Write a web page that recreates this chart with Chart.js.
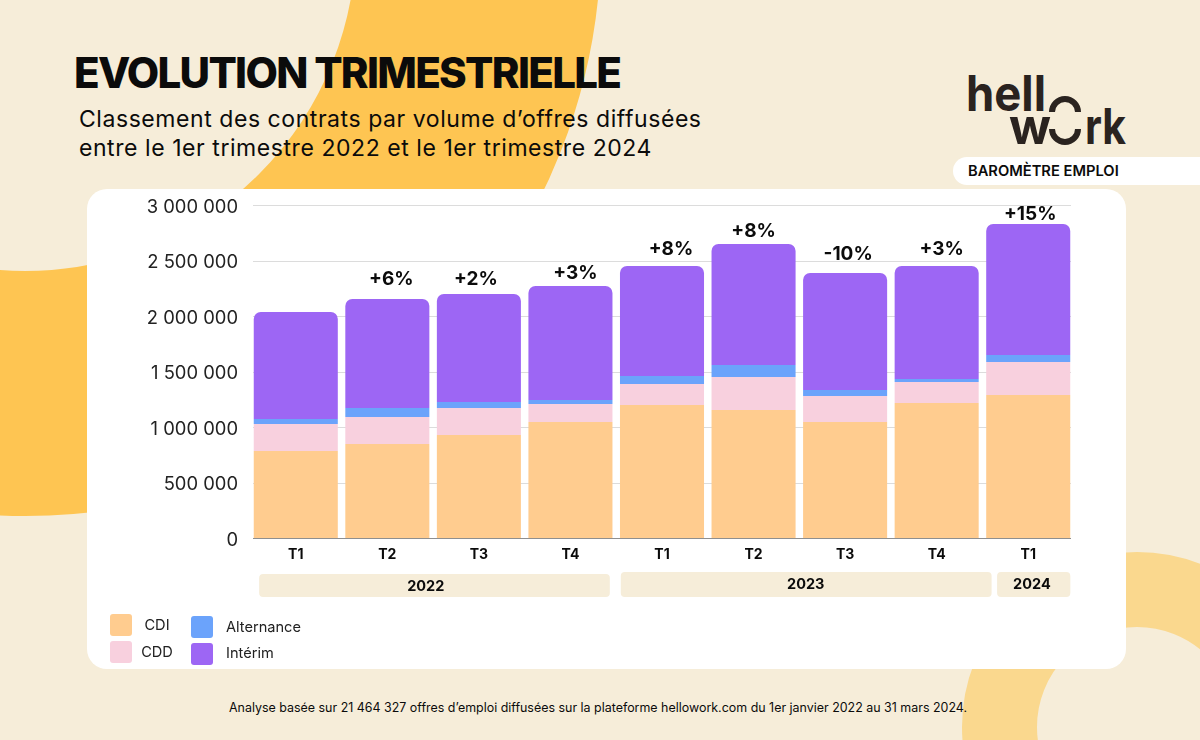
<!DOCTYPE html>
<html lang="fr">
<head>
<meta charset="utf-8">
<title>Evolution trimestrielle</title>
<script src="https://cdn.jsdelivr.net/npm/chart.js@4"></script>
<style>
    html, body { margin: 0; padding: 0; }
    body { width: 1200px; height: 740px; overflow: hidden; background: #F6EDD9; position: relative; font-family: Inter, sans-serif; color: #0b0b0b; }
    .ring { position: absolute; border-radius: 50%; box-sizing: border-box; }
    #ring-big { left: -551px; top: -636px; width: 1152px; height: 1152px; border: 245px solid #FEC552; }
    #ring-small { left: 962px; top: 552px; width: 350px; height: 350px; border: 75px solid #FAD88E; }
    #card { position: absolute; left: 87px; top: 189px; width: 1039px; height: 480px; background: #fff; border-radius: 20px; }
    h1 { position: absolute; left: 74px; top: 47px; margin: 0; font-size: 42px; line-height: 52px; font-weight: 800; letter-spacing: -1.7px; white-space: nowrap; }
    #subtitle { position: absolute; left: 79px; top: 105px; margin: 0; font-size: 23px; line-height: 29px; font-weight: 400; letter-spacing: 0.56px; white-space: nowrap; }
    #pill { position: absolute; left: 953px; top: 157px; width: 247px; height: 28px; background: #fff; border-radius: 14px 0 0 14px; font-size: 14.7px; line-height: 29px; font-weight: 600; padding-left: 15px; box-sizing: border-box; }
    #logo { position: absolute; left: 0; top: 0; }
    #footer { position: absolute; left: 0; width: 1196px; top: 700px; text-align: center; font-size: 12.45px; line-height: 16px; }
    canvas { position: absolute; left: 0; top: 0; }
</style>
</head>
<body>
<div class="ring" id="ring-big"></div>
<div class="ring" id="ring-small"></div>
<div id="card"></div>
<h1>EVOLUTION TRIMESTRIELLE</h1>
<p id="subtitle">Classement des contrats par volume d’offres diffusées<br>entre le 1er trimestre 2022 et le 1er trimestre 2024</p>
<svg id="logo" width="1200" height="160" font-family="Inter" font-weight="700" fill="#2A231F">
    <text x="966" y="111" font-size="50" textLength="80" lengthAdjust="spacingAndGlyphs">hell</text>
    <text x="1009" y="144" font-size="50" textLength="42" lengthAdjust="spacingAndGlyphs">w</text>
    <text x="1085" y="144" font-size="50" textLength="41" lengthAdjust="spacingAndGlyphs">rk</text>
    <path d="M1052 112 A13 13 0 0 1 1078 112" fill="none" stroke="#2A231F" stroke-width="6"/>
    <path d="M1052 129 A13 13 0 0 0 1078 129" fill="none" stroke="#2A231F" stroke-width="6"/>
</svg>
<div id="pill">BAROMÈTRE EMPLOI</div>
<div id="footer">Analyse basée sur 21 464 327 offres d’emploi diffusées sur la plateforme hellowork.com du 1er janvier 2022 au 31 mars 2024.</div>
<canvas id="chart" width="1200" height="740"></canvas>

<script>
const quarters = ['T1', 'T2', 'T3', 'T4', 'T1', 'T2', 'T3', 'T4', 'T1'];
const cdi = [784000, 847000, 928000, 1045000, 1198000, 1153000, 1045000, 1216000, 1288000];
const cdd = [243000, 243000, 243000, 162000, 189000, 297000, 234000, 189000, 297000];
const alternance = [45000, 81000, 54000, 36000, 72000, 108000, 54000, 27000, 63000];
const interim = [964000, 982000, 973000, 1027000, 991000, 1090000, 1054000, 1018000, 1181000];
const growth = [null, '+6%', '+2%', '+3%', '+8%', '+8%', '-10%', '+3%', '+15%'];
const yearLabels = ['2022', '2023', '2024'];

// year bands, in category units
const yearBandStart = [-0.40, 3.55, 7.66];
const yearBandEnd = [3.43, 7.60, 8.46];
const yearLabelAt = [1.42, 5.57, 8.04];

// hand placement of the small labels, they are not regular in the original
const growthDx = [0, 4, -3, 5, 9, 0, 3, 5, 2];
const growthGap = [0, 10, 5, 3, 7, 3, 9, 7, 0];
const yearBandTop = [574, 572, 572];
const yearTextY = [587, 585, 585];
const legendBoxes = [[110, 614], [110, 641], [191, 616], [191, 643]];
const legendText = [[157, 626, 'center'], [157, 653, 'center'], [226, 628, 'left'], [226, 654, 'left']];

const formatNumber = (v) => String(v).replace(/\B(?=(\d{3})+$)/g, ' ');

const gridPlugin = {
    id: 'grid',
    beforeDatasetsDraw(chart) {
        const { ctx, scales: { y } } = chart;
        ctx.save();
        y.ticks.forEach((tick) => {
            const py = Math.round(y.getPixelForValue(tick.value)) + 0.5;
            ctx.strokeStyle = tick.value === 0 ? '#8f8f8f' : '#dcdcdc';
            ctx.lineWidth = 1;
            ctx.beginPath();
            ctx.moveTo(253, py);
            ctx.lineTo(1071, py);
            ctx.stroke();
        });
        ctx.restore();
    }
};

const extrasPlugin = {
    id: 'extras',
    afterDatasetsDraw(chart) {
        const { ctx, scales: { x } } = chart;
        const topBars = chart.getDatasetMeta(3).data;
        ctx.save();

        // growth labels above the stacks
        ctx.fillStyle = '#0b0b0b';
        ctx.font = '700 19px Inter';
        ctx.textAlign = 'center';
        ctx.textBaseline = 'bottom';
        growth.forEach((label, i) => {
            if (label) ctx.fillText(label, topBars[i].x + growthDx[i], topBars[i].y - growthGap[i]);
        });

        // year bands under the axis
        ctx.textBaseline = 'middle';
        ctx.font = '700 14.5px Inter';
        yearLabels.forEach((year, i) => {
            const left = x.getPixelForValue(yearBandStart[i]);
            const right = x.getPixelForValue(yearBandEnd[i]);
            ctx.fillStyle = '#F6EDD9';
            ctx.beginPath();
            ctx.roundRect(left, yearBandTop[i], right - left, 597 - yearBandTop[i], 4);
            ctx.fill();
            ctx.fillStyle = '#0b0b0b';
            ctx.fillText(year, x.getPixelForValue(yearLabelAt[i]), yearTextY[i]);
        });

        // legend, laid out by hand in two columns
        ctx.font = '400 14.6px Inter';
        chart.data.datasets.forEach((ds, i) => {
            ctx.fillStyle = ds.backgroundColor;
            ctx.beginPath();
            ctx.roundRect(legendBoxes[i][0], legendBoxes[i][1], 22, 22, 3);
            ctx.fill();
            ctx.fillStyle = '#222';
            ctx.textAlign = legendText[i][2];
            ctx.fillText(ds.label, legendText[i][0], legendText[i][1]);
        });
        ctx.restore();
    }
};

new Chart(document.getElementById('chart'), {
    type: 'bar',
    data: {
        labels: quarters,
        datasets: [
            { label: 'CDI', data: cdi, backgroundColor: '#FFCC8F' },
            { label: 'CDD', data: cdd, backgroundColor: '#F8D0DE' },
            { label: 'Alternance', data: alternance, backgroundColor: '#6BA3FB' },
            { label: 'Intérim', data: interim, backgroundColor: '#9D66F4', borderRadius: { topLeft: 7, topRight: 7 } }
        ]
    },
    options: {
        responsive: false,
        animation: false,
        layout: { padding: { top: 205, right: 126, left: 0, bottom: 0 } },
        plugins: { legend: { display: false }, tooltip: { enabled: false } },
        datasets: { bar: { barPercentage: 0.918, categoryPercentage: 1, borderSkipped: false, borderWidth: 0 } },
        scales: {
            x: {
                stacked: true,
                grid: { display: false },
                border: { display: false },
                ticks: { color: '#0b0b0b', font: { family: 'Inter', size: 14, weight: '700' }, padding: 0, maxRotation: 0 },
                afterFit: (scale) => { scale.height = 202; }
            },
            y: {
                stacked: true,
                min: 0,
                max: 3000000,
                grid: { display: false },
                border: { display: false },
                ticks: {
                    stepSize: 500000,
                    color: '#222',
                    padding: 4,
                    // small line height + empty first line = labels sit 2px below the gridline
                    font: { family: 'Inter', size: 18.4, lineHeight: 0.22 },
                    callback: (v) => ['', formatNumber(v)]
                },
                afterFit: (scale) => { scale.width = 250; scale.paddingTop = 0; scale.paddingBottom = 0; }
            }
        }
    },
    plugins: [gridPlugin, extrasPlugin]
});
</script>
</body>
</html>
